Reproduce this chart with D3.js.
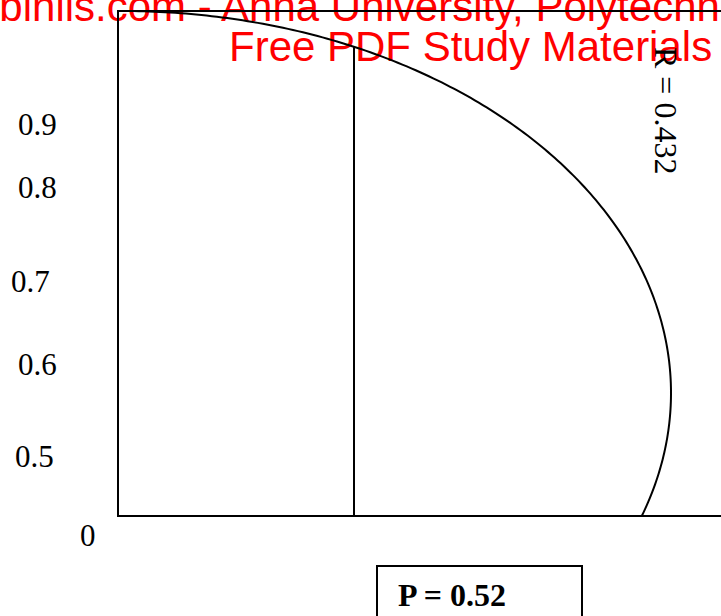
<!DOCTYPE html>
<html>
<head>
<meta charset="utf-8">
<script src="https://cdn.jsdelivr.net/npm/d3@7"></script>
<style>
  html, body { margin: 0; padding: 0; background: #fff; overflow: hidden; }
  svg { display: block; }
</style>
</head>
<body>
<svg id="chart" width="721" height="616"></svg>
<script>
// ---- data ----
const yTickValues = [0.9, 0.8, 0.7, 0.6, 0.5, 0];
const yTickLabels = ["0.9", "0.8", "0.7", "0.6", "0.5", "0"];
const rValue = 0.432;
const pValue = 0.52;
const watermarkLines = ["www.binils.com - Anna University, Polytechnic & Schools", "Free PDF Study Materials"];

// ---- layout ----
const W = 721, H = 616;
const frame = { left: 118, top: 11, right: 724, bottom: 516 };
const tickX = [18, 18, 11, 18, 15, 80];

const svg = d3.select("#chart");

// watermark (drawn underneath)
const wm = svg.append("g")
  .attr("font-family", "'Liberation Sans', Arial, sans-serif")
  .attr("font-size", 42)
  .attr("fill", "#ff0000");
wm.append("text").attr("x", -101).attr("y", 21).text(watermarkLines[0]);
wm.append("text").attr("x", 229).attr("y", 61).text(watermarkLines[1]);

// y label scale (piecewise, uneven spacing as in the reference)
const y = d3.scaleLinear()
  .domain([0, 0.5, 0.6, 0.7, 0.8, 0.9])
  .range([546, 467, 375, 292, 198, 135]);

svg.append("g")
  .attr("font-family", "'Liberation Serif', 'Times New Roman', serif")
  .attr("font-size", 31)
  .attr("fill", "#000")
  .selectAll("text")
  .data(yTickValues)
  .join("text")
  .attr("x", (d, i) => tickX[i])
  .attr("y", d => y(d))
  .text((d, i) => yTickLabels[i]);

// frame
svg.append("path")
  .attr("d", `M${frame.right},${frame.top}H${frame.left}V${frame.bottom}H${frame.right}`)
  .attr("fill", "none")
  .attr("stroke", "#000")
  .attr("stroke-width", 2);

// ellipse scales (unit ellipse -> pixels)
const ex = d3.scaleLinear().domain([0, 1]).range([122, 671]);
const ey = d3.scaleLinear().domain([0, 1]).range([393, 11]);

const tStart = Math.acos(Math.max(-1, Math.min(1, ex.invert(frame.left))));
const tEnd = Math.asin(ey.invert(frame.bottom));
const angles = d3.range(0, 201).map(i => tStart + (tEnd - tStart) * i / 200);

const line = d3.line()
  .x(t => ex(Math.cos(t)))
  .y(t => ey(Math.sin(t)));

svg.append("path")
  .datum(angles)
  .attr("d", line)
  .attr("fill", "none")
  .attr("stroke", "#000")
  .attr("stroke-width", 2);

// vertical divider meeting the curve
const vx = 354;
const u = ex.invert(vx);
const vTop = ey(Math.sqrt(1 - u * u));
svg.append("line")
  .attr("x1", vx).attr("x2", vx)
  .attr("y1", vTop).attr("y2", frame.bottom)
  .attr("stroke", "#000")
  .attr("stroke-width", 2);

// R label (rotated)
svg.append("text")
  .attr("transform", "translate(655,47) rotate(90)")
  .attr("font-family", "'Liberation Serif', 'Times New Roman', serif")
  .attr("font-size", 32)
  .attr("fill", "#000")
  .text(`R = ${rValue}`);

// P label box
svg.append("rect")
  .attr("x", 377).attr("y", 566)
  .attr("width", 205).attr("height", 80)
  .attr("fill", "#fff")
  .attr("stroke", "#000")
  .attr("stroke-width", 2);
svg.append("text")
  .attr("x", 398).attr("y", 606)
  .attr("font-family", "'Liberation Serif', 'Times New Roman', serif")
  .attr("font-weight", "bold")
  .attr("font-size", 32)
  .attr("fill", "#000")
  .text(`P = ${pValue}`);
</script>
</body>
</html>
